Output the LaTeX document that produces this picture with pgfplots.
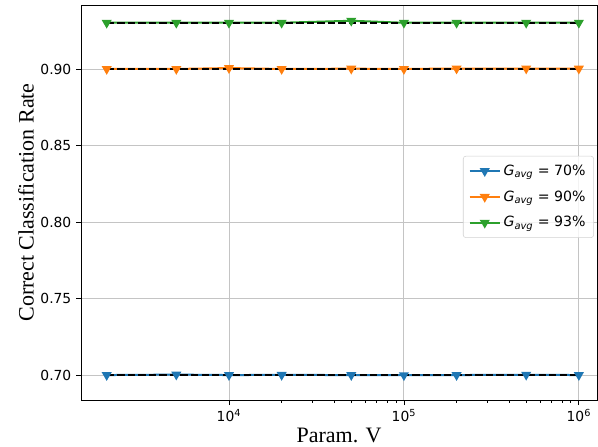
\documentclass[border=0pt]{standalone}
\usepackage{pgfplots}
\pgfplotsset{compat=1.18}
\usepackage{fontspec}
\setmainfont{DejaVu Sans}
\newfontfamily\timesfont{Liberation Serif}
\definecolor{tabblue}{HTML}{1F77B4}
\definecolor{taborange}{HTML}{FF7F0E}
\definecolor{tabgreen}{HTML}{2CA02C}
\definecolor{gridgray}{HTML}{C4C4C4}
\begin{document}
\begin{tikzpicture}
\useasboundingbox (-60.75pt,-34.5pt) rectangle (387.75pt,300pt);
\begin{axis}[
  at={(0,0)}, anchor=south west,
  scale only axis,
  width=387pt, height=296.25pt,
  xmode=log,
  xmin=1426, xmax=1.27e6,
  ymin=0.6837, ymax=0.9418,
  xtick={1e4,1e5,1e6},
  xticklabels={10\textsuperscript{4},10\textsuperscript{5},10\textsuperscript{6}},
  ytick={0.70,0.75,0.80,0.85,0.90},
  yticklabels={0.70,0.75,0.80,0.85,0.90},
  tick label style={font=\fontsize{10.4}{12}\selectfont},
  tick align=outside,
  major tick length=3.75pt,
  minor tick length=2pt,
  tick style={black, line width=0.6pt},
  xtick pos=bottom, ytick pos=left,
  grid=major,
  major grid style={gridgray, line width=0.7pt},
  axis line style={black, line width=0.6pt},
  xlabel={\timesfont Param. V},
  ylabel={\timesfont Correct Classification Rate},
  label style={font=\fontsize{16.5}{19}\selectfont},
  xlabel style={yshift=2pt},
  ylabel style={yshift=-2pt},
  legend style={at={(0.994,0.618)}, anchor=north east, draw=gray!35, rounded corners=2pt,
    font=\fontsize{10.6}{12}\selectfont, row sep=6pt, inner xsep=4pt, inner ysep=4.5pt,
    fill=white, fill opacity=0.8, text opacity=1},
  legend cell align=left,
  legend image code/.code={
    \draw[#1, mark repeat=2, mark phase=2] plot coordinates {(0cm,0cm) (0.4cm,0cm) (0.8cm,0cm)};
  },
]
\addplot[tabblue, line width=1.5pt, mark=triangle*, mark options={rotate=180, scale=1.45, solid}]
  coordinates {(2000,0.7) (5000,0.7003) (10000,0.7) (20000,0.7001) (50000,0.7) (100000,0.6999) (200000,0.7) (500000,0.7002) (1000000,0.7)};
\addlegendentry{\textit{G}\textsubscript{\textit{avg}} = 70\%}
\addplot[taborange, line width=1.5pt, mark=triangle*, mark options={rotate=180, scale=1.45, solid}]
  coordinates {(2000,0.9) (5000,0.9) (10000,0.9006) (20000,0.9) (50000,0.9002) (100000,0.9) (200000,0.9003) (500000,0.9003) (1000000,0.9002)};
\addlegendentry{\textit{G}\textsubscript{\textit{avg}} = 90\%}
\addplot[tabgreen, line width=1.5pt, mark=triangle*, mark options={rotate=180, scale=1.45, solid}]
  coordinates {(2000,0.9302) (5000,0.9302) (10000,0.9302) (20000,0.9302) (50000,0.9315) (100000,0.9302) (200000,0.9302) (500000,0.9302) (1000000,0.9302)};
\addlegendentry{\textit{G}\textsubscript{\textit{avg}} = 93\%}
\addplot[black, line width=1.6pt, dash pattern=on 5.5pt off 2.4pt, forget plot] coordinates {(2000,0.7) (1000000,0.7)};
\addplot[black, line width=1.6pt, dash pattern=on 5.5pt off 2.4pt, forget plot] coordinates {(2000,0.9) (1000000,0.9)};
\addplot[black, line width=1.6pt, dash pattern=on 5.5pt off 2.4pt, forget plot] coordinates {(2000,0.93) (1000000,0.93)};
\end{axis}
\end{tikzpicture}
\end{document}
